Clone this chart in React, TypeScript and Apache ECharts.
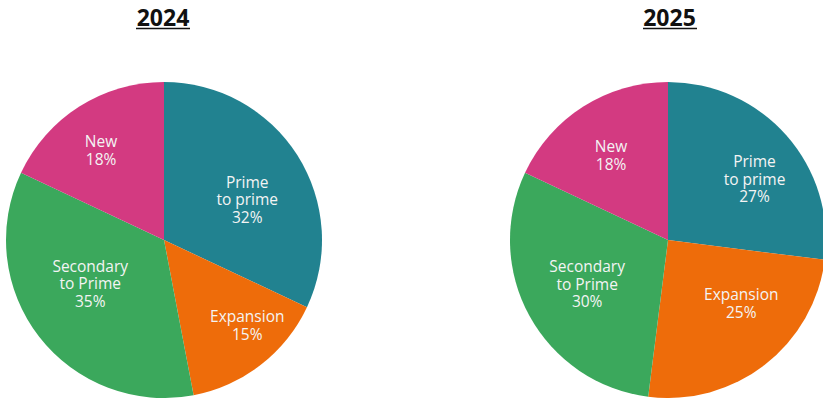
import React, { useEffect, useRef } from "react";
import * as echarts from "echarts";

const categories = ["Prime\nto prime", "Expansion", "Secondary\nto Prime", "New"];
const values2024 = [32, 15, 35, 18];
const values2025 = [27, 25, 30, 18];
const years = ["2024", "2025"];
const colors = ["#218290", "#EE6C0A", "#3BA85C", "#D33A81"];
// label nudges from the default inside position [dx, dy]
const labelShift2024 = [[14, 3], [33, 20], [-9, -7], [-19, -21]];
const labelShift2025 = [[25, -7], [23, -2], [-9, 4], [-13, -16]];

export default function App() {
  const ref = useRef<HTMLDivElement>(null);
  useEffect(() => {
    document.body.style.margin = "0";
    const chart = echarts.init(ref.current!, undefined, { renderer: "svg" });
    const mkSeries = (vals: number[], center: [number, number], shifts: number[][]) => ({
      type: "pie",
      center,
      radius: 158,
      startAngle: 90,
      clockwise: true,
      silent: true,
      data: categories.map((c, i) => ({ name: c, value: vals[i], itemStyle: { color: colors[i] } })),
      itemStyle: { borderWidth: 0 },
      label: {
        show: true,
        position: "inside",
        formatter: "{b}\n{c}%",
        color: "#f4f4f4",
        fontFamily: "Open Sans",
        fontSize: 15.5,
        lineHeight: 17.5,
        align: "center",
      },
      labelLine: { show: false },
      labelLayout: (p: any) => ({ dx: shifts[p.dataIndex][0], dy: shifts[p.dataIndex][1] }),
    });
    const titleStyle = {
      fontFamily: "Open Sans",
      fontWeight: "bold",
      fontSize: 23,
      fill: "#111",
      align: "center",
      verticalAlign: "middle",
    };
    chart.setOption({
      animation: false,
      graphic: [
        { type: "text", x: 163, y: 17, style: { ...titleStyle, text: years[0] } },
        { type: "text", x: 669.5, y: 17, style: { ...titleStyle, text: years[1] } },
        { type: "line", shape: { x1: 136, y1: 28.5, x2: 190, y2: 28.5 }, style: { stroke: "#111", lineWidth: 1.6 } },
        { type: "line", shape: { x1: 643, y1: 28.5, x2: 697, y2: 28.5 }, style: { stroke: "#111", lineWidth: 1.6 } },
      ],
      series: [
        mkSeries(values2024, [164, 240], labelShift2024),
        mkSeries(values2025, [668, 240], labelShift2025),
      ],
    });
    return () => chart.dispose();
  }, []);
  return (
    <div
      ref={ref}
      style={{ position: "absolute", left: 0, top: 0, width: 823, height: 398, background: "#fff" }}
    />
  );
}
